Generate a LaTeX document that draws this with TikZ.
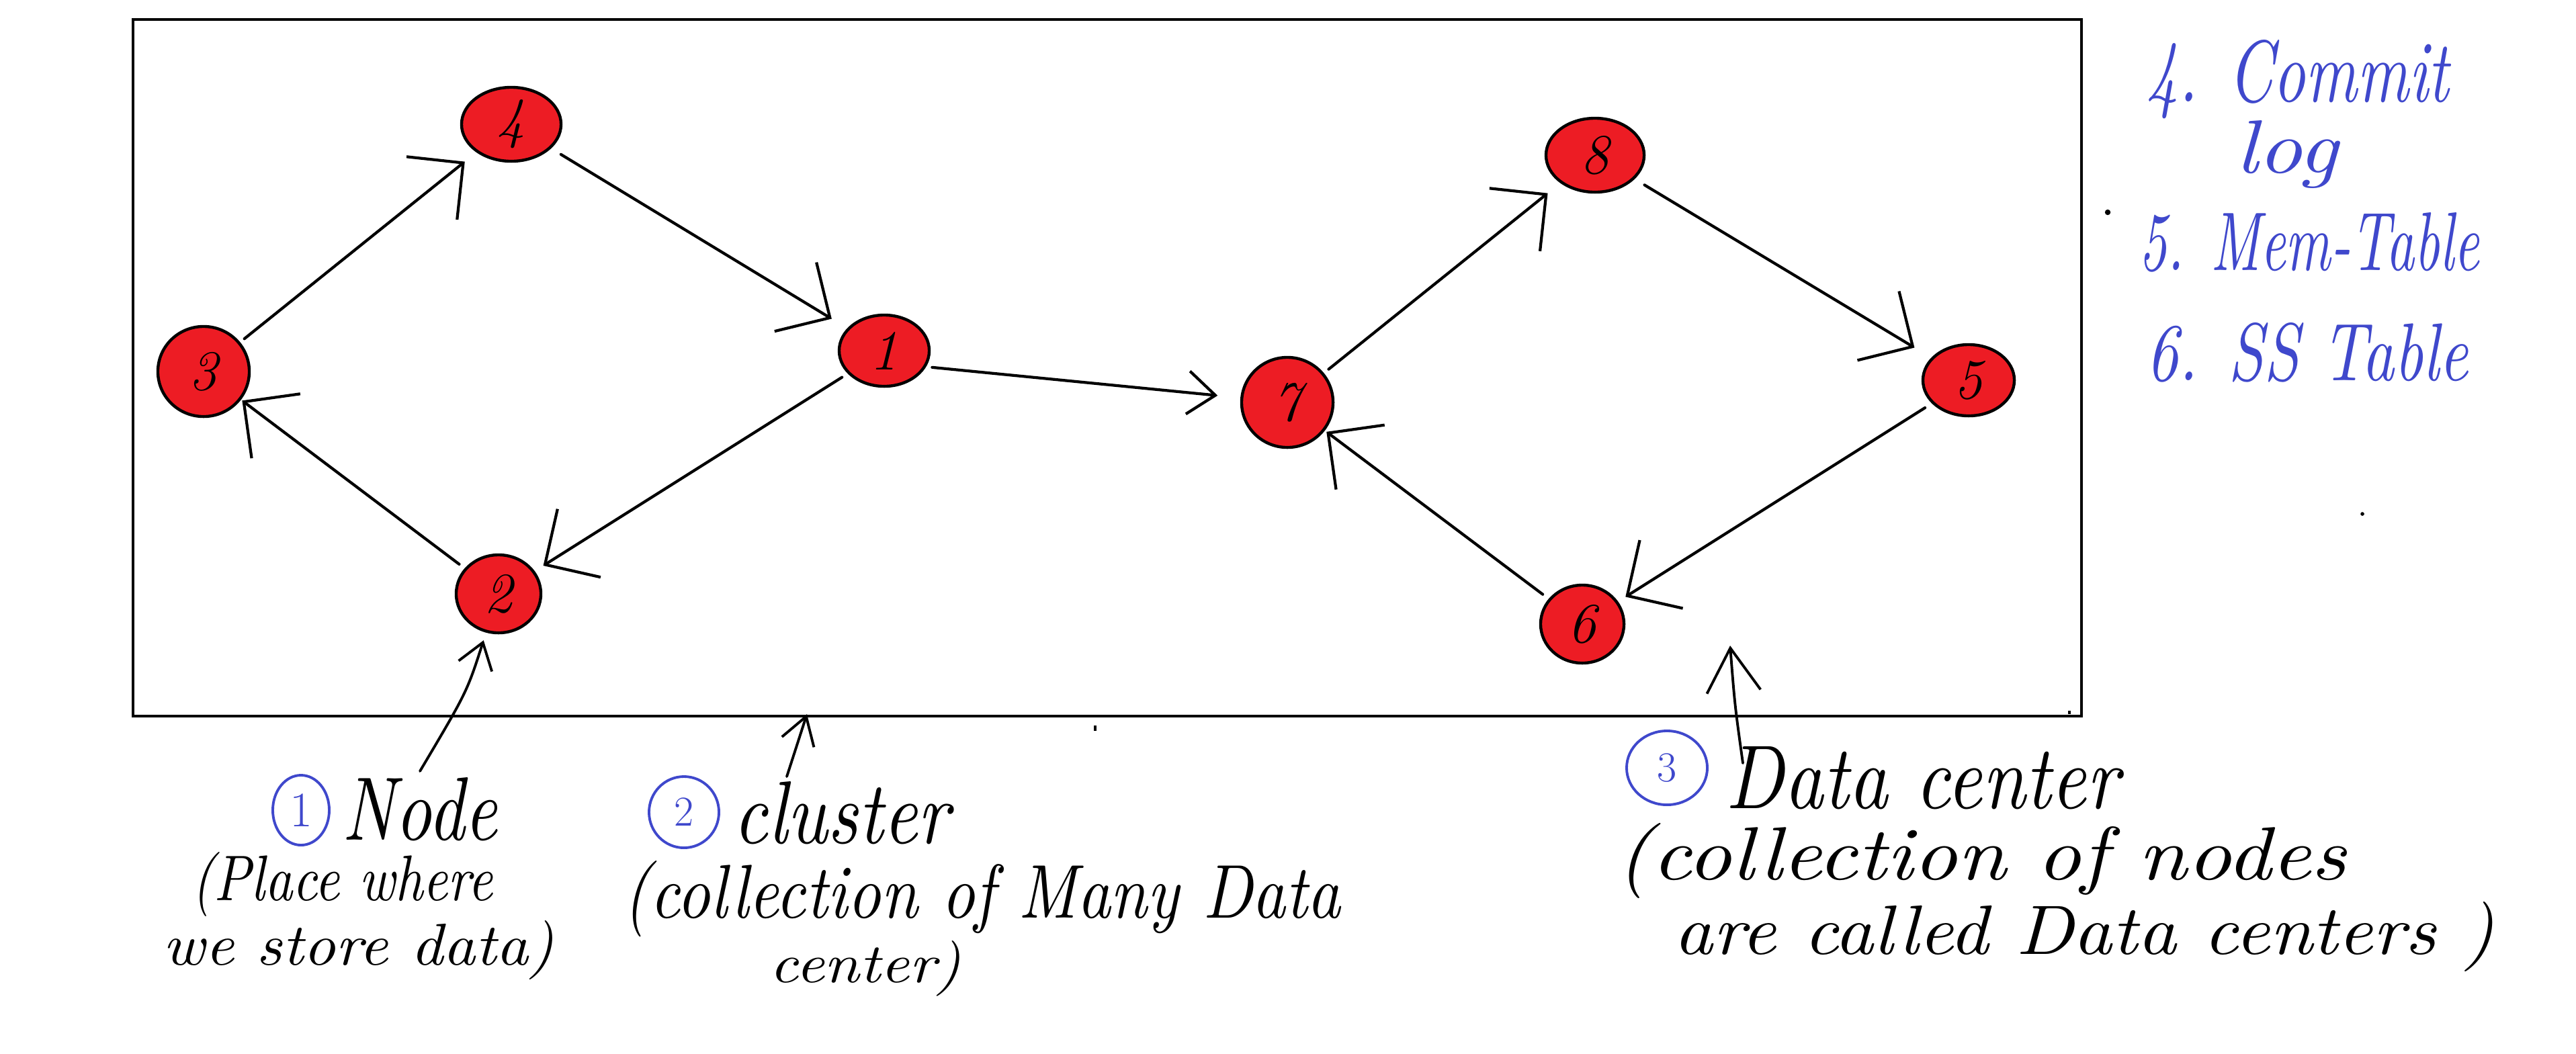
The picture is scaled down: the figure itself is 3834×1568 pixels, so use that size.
\documentclass[tikz,border=0pt]{standalone}
\usepackage{graphicx}
\usetikzlibrary{arrows.meta,shapes.geometric}
\definecolor{pred}{HTML}{ED1C24}
\definecolor{pblue}{HTML}{3F48CC}
\newcommand\hw[3]{\resizebox{#1}{#2}{\itshape #3}}
\begin{document}
\begin{tikzpicture}[x=0.01cm,y=-0.01cm,
  dc/.style={ellipse, draw=black, line width=1.25pt, fill=pred, inner sep=0pt,
    font=\fontsize{24}{24}\selectfont\itshape},
  conn/.style={line width=1.2pt, line cap=round, -{Straight Barb[length=6mm,width=12mm]}},
  connsmall/.style={line width=1.2pt, line cap=round, -{Straight Barb[length=4.1mm,width=6.4mm]}},
  lblA/.style={line width=1.1pt, line cap=round, -{Straight Barb[length=3.7mm,width=5.2mm]}},
  lblB/.style={line width=1.1pt, line cap=round, -{Straight Barb[length=4mm,width=5mm]}},
  lblC/.style={line width=1.1pt, line cap=round, -{Straight Barb[length=6.5mm,width=8mm]}},
  txt/.style={anchor=base west, inner sep=0pt},
  btxt/.style={txt, text=pblue},
  bcirc/.style={ellipse, draw=pblue, line width=1.1pt, inner sep=0pt, text=pblue},
]
\useasboundingbox (0,0) rectangle (3834,1568);
\fill[white] (0,0) rectangle (3834,1568);

% frame
\draw[line width=1.3pt] (198,29) rectangle (3098,1066);

% nodes, left cluster
\node[dc, minimum width=1.48cm, minimum height=1.10cm] (n4) at (761,185) {4};
\node[dc, minimum width=1.36cm, minimum height=1.34cm] (n3) at (303,553) {3};
\node[dc, minimum width=1.34cm, minimum height=1.06cm] (n1) at (1316,522) {1};
\node[dc, minimum width=1.26cm, minimum height=1.16cm] (n2) at (742,884) {2};
% nodes, right cluster
\node[dc, minimum width=1.46cm, minimum height=1.10cm] (n8) at (2374,231) {8};
\node[dc, minimum width=1.36cm, minimum height=1.34cm] (n7) at (1916,599) {7};
\node[dc, minimum width=1.36cm, minimum height=1.06cm] (n5) at (2930,566) {5};
\node[dc, minimum width=1.24cm, minimum height=1.16cm] (n6) at (2355,929) {6};

% connectors
\draw[conn, shorten <=0.08cm, shorten >=0.22cm] (n3) -- (n4);
\draw[conn, shorten <=0.17cm, shorten >=0.27cm] (n4) -- (n1);
\draw[conn, shorten <=0.10cm, shorten >=0.15cm] (n1) -- (n2);
\draw[conn, shorten <=0.10cm, shorten >=0.02cm] (n2) -- (n3);
\draw[conn, shorten <=0.09cm, shorten >=0.24cm] (n7) -- (n8);
\draw[conn, shorten <=0.17cm, shorten >=0.29cm] (n8) -- (n5);
\draw[conn, shorten <=0.12cm, shorten >=0.13cm] (n5) -- (n6);
\draw[conn, shorten <=0.11cm, shorten >=0.03cm] (n6) -- (n7);
\draw[connsmall, shorten <=0.09cm, shorten >=0.34cm] (n1.-21) -- (n7);

% labels below
\node[bcirc, minimum width=0.84cm, minimum height=1.04cm] (c1) at (448,1206) {\fontsize{21}{21}\selectfont 1};
\node[txt] (tnode) at (509,1250) {\hw{2.30cm}{0.93cm}{Node}};
\node[txt] (tplace) at (285,1340) {\hw{4.48cm}{0.72cm}{(Place where}};
\node[txt] (tstore) at (242,1436) {\hw{5.82cm}{0.66cm}{we store data)}};

\node[bcirc, minimum width=1.04cm, minimum height=1.06cm] (c2) at (1018,1209) {\fontsize{18}{18}\selectfont 2};
\node[txt] (tcluster) at (1091,1255) {\hw{3.21cm}{0.92cm}{cluster}};
\node[txt] (tcoll) at (927,1366) {\hw{10.67cm}{0.85cm}{(collection of Many Data}};
\node[txt] (tcenter) at (1145,1462) {\hw{2.85cm}{0.62cm}{center)}};

\node[bcirc, minimum width=1.20cm, minimum height=1.10cm] (c3) at (2481,1143) {\fontsize{18}{18}\selectfont 3};
\node[txt] (tdc) at (2568,1203) {\hw{5.84cm}{0.92cm}{Data center}};
\node[txt] (tcoll2) at (2405,1309) {\hw{10.86cm}{0.84cm}{(collection of nodes}};
\node[txt] (tcalled) at (2491,1420) {\hw{12.20cm}{0.78cm}{are called Data centers )}};

% label arrows
\coordinate (aN) at (625,1148);
\draw[lblA, shorten >=0.12cm] (aN) .. controls (695,1030) .. (n2);
\coordinate (aC) at (1171,1156);
\coordinate (aCt) at (1201,1063);
\draw[lblB] (aC) -- (aCt);
\coordinate (aD) at (2594,1136);
\coordinate (aDt) at (2575,961);
\draw[lblC] (aD) .. controls (2582,1050) .. (aDt);

% list on the right
\node[btxt] (tcommit) at (3194,151) {\hw{4.50cm}{0.92cm}{4. Commit}};
\node[btxt] (tlog) at (3327,257) {\hw{1.52cm}{0.78cm}{log}};
\node[btxt] (tmem) at (3183,402) {\hw{5.06cm}{0.86cm}{5. Mem-Table}};
\node[btxt] (tss) at (3194,566) {\hw{4.79cm}{0.86cm}{6. SS Table}};

% specks
\fill (3137,316) circle[radius=1.2pt];
\fill (3516,765) circle[radius=0.8pt];
\draw[line width=0.9pt] (1630,1080) -- (1630,1088);
\draw[line width=0.9pt] (3080,1058) -- (3080,1063);
\end{tikzpicture}
\end{document}
